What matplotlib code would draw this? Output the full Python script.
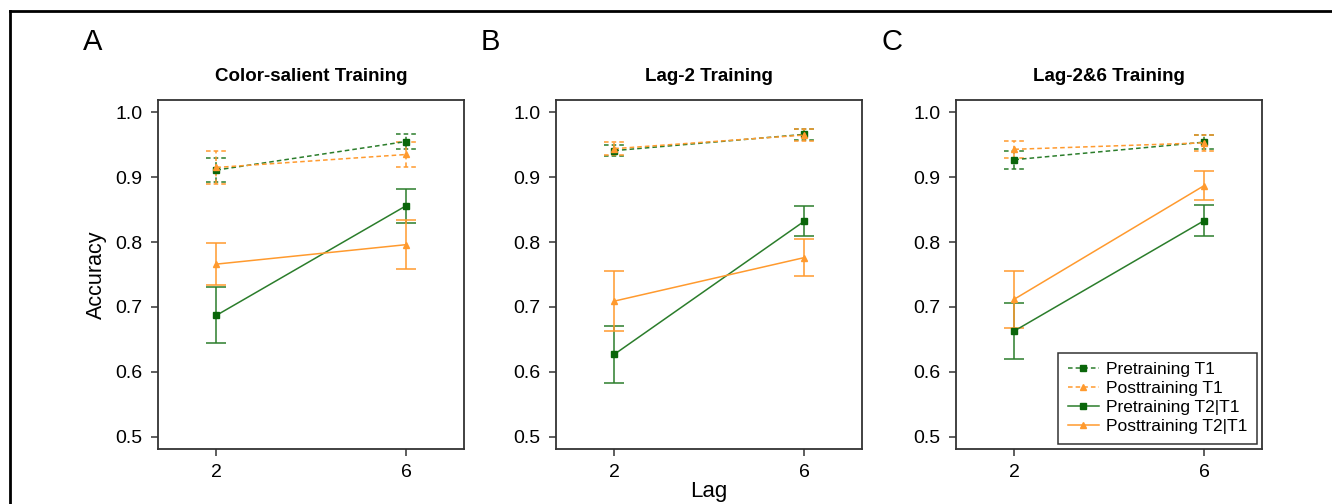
import matplotlib
matplotlib.use("Agg")
import matplotlib.pyplot as plt
from matplotlib.lines import Line2D

plt.rcParams['font.family'] = ['Liberation Sans', 'DejaVu Sans']

# Data (mean accuracy and error bar half-widths)
lags = [2, 6]
titles = ["Color-salient Training", "Lag-2 Training", "Lag-2&6 Training"]
letters = ["A", "B", "C"]

pre_t1 = [[0.911, 0.955], [0.941, 0.966], [0.927, 0.954]]
pre_t1_err = [[0.019, 0.012], [0.009, 0.009], [0.014, 0.011]]
post_t1 = [[0.915, 0.935], [0.944, 0.965], [0.943, 0.953]]
post_t1_err = [[0.025, 0.019], [0.010, 0.009], [0.013, 0.012]]
pre_t2 = [[0.687, 0.856], [0.627, 0.832], [0.663, 0.833]]
pre_t2_err = [[0.043, 0.026], [0.044, 0.023], [0.043, 0.024]]
post_t2 = [[0.766, 0.796], [0.709, 0.776], [0.712, 0.887]]
post_t2_err = [[0.032, 0.038], [0.046, 0.029], [0.044, 0.022]]

series_names = ["Pretraining T1", "Posttraining T1", "Pretraining T2|T1", "Posttraining T2|T1"]

green = "#2b7d2b"
green_mk = "#0a660a"
orange = "#ff9a2e"
dash = (0, (3, 2))

W, H = 1332, 504
fig = plt.figure(figsize=(W / 100, H / 100), dpi=100)

lefts = [158, 556, 956]
ax_w = 306
ax_top, ax_bot = 100, 449
cap_half = 0.22  # cap half-width in data units


def draw_series(ax, y, err, color, mcolor, marker, dashed):
    ls = dash if dashed else '-'
    eb = ax.errorbar(lags, y, yerr=err, color=color, ls=ls, lw=1.1,
                     marker=marker, ms=4.5, mfc=mcolor, mec=mcolor,
                     capsize=0 if dashed else 7.5, elinewidth=1.1,
                     capthick=1.1, zorder=3)
    if dashed:
        eb[2][0].set_linestyle(dash)
        for xi, yi, ei in zip(lags, y, err):
            ax.hlines([yi - ei, yi + ei], xi - cap_half, xi + cap_half,
                      colors=color, linestyles=dash, lw=1.1, zorder=3)
    return eb


axes = []
for i in range(3):
    ax = fig.add_axes([lefts[i] / W, 1 - ax_bot / H, ax_w / W, (ax_bot - ax_top) / H])
    axes.append(ax)
    draw_series(ax, pre_t1[i], pre_t1_err[i], green, green_mk, 's', True)
    draw_series(ax, post_t1[i], post_t1_err[i], orange, orange, '^', True)
    draw_series(ax, pre_t2[i], pre_t2_err[i], green, green_mk, 's', False)
    draw_series(ax, post_t2[i], post_t2_err[i], orange, orange, '^', False)

    ax.set_xlim(0.77, 7.22)
    ax.set_ylim(0.481, 1.019)
    ax.set_xticks(lags)
    ax.set_yticks([0.5, 0.6, 0.7, 0.8, 0.9, 1.0])
    ax.set_yticklabels(["0.5", "0.6", "0.7", "0.8", "0.9", "1.0"])
    ax.tick_params(direction='out', length=5, width=1.1, labelsize=14,
                   color='#333333', pad=6)
    for s in ax.spines.values():
        s.set_color('#333333')
        s.set_linewidth(1.3)
    ax.set_title(titles[i], fontsize=13.5, fontweight='bold', pad=14)
    fig.text((lefts[i] - 75) / W, 1 - 42 / H, letters[i], fontsize=21,
             ha='left', va='center')

axes[0].set_ylabel("Accuracy", fontsize=15.5, labelpad=6)
axes[1].set_xlabel("Lag", fontsize=16, labelpad=0)

handles = [
    Line2D([], [], color=green, ls=dash, lw=1.1, marker='s', ms=4, mfc=green_mk, mec=green_mk),
    Line2D([], [], color=orange, ls=dash, lw=1.1, marker='^', ms=4, mfc=orange, mec=orange),
    Line2D([], [], color=green, ls='-', lw=1.1, marker='s', ms=4, mfc=green_mk, mec=green_mk),
    Line2D([], [], color=orange, ls='-', lw=1.1, marker='^', ms=4, mfc=orange, mec=orange),
]
leg = axes[2].legend(handles, series_names, loc='lower right', fontsize=12.5, frameon=True,
                     fancybox=False, edgecolor='black', handlelength=1.8,
                     borderaxespad=0.3, labelspacing=0.22, handletextpad=0.4,
                     borderpad=0.55)
leg.get_frame().set_linewidth(1.1)

# outer frame of the figure panel
fig.add_artist(Line2D([10 / W, 1], [1 - 11 / H, 1 - 11 / H], color='black', lw=2,
                      transform=fig.transFigure))
fig.add_artist(Line2D([10 / W, 10 / W], [0, 1 - 11 / H], color='black', lw=2,
                      transform=fig.transFigure))

fig.savefig("out.png", dpi=100)
